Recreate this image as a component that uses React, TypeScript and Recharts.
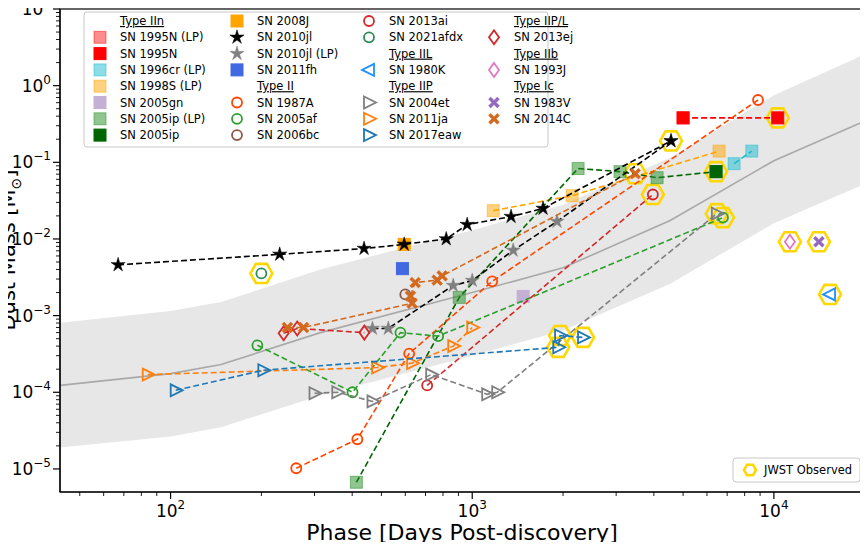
import React from 'react';
import { ComposedChart, XAxis, YAxis, Scatter, Line, Area } from 'recharts';

// [days, dust mass (Msun), jwst?]
type P = [number, number, number?];

const sn1995nLP: P[] = [[5000, 0.38]];
const sn1995n: P[] = [[5000, 0.38], [10300, 0.38, 1]];
const sn1996crLP: P[] = [[7380, 0.096], [8450, 0.14]];
const sn1998sLP: P[] = [[1174, 0.0234], [2143, 0.0367], [6580, 0.14]];
const sn2005gn: P[] = [[1475, 0.00178]];
const sn2005ipLP: P[] = [[413, 6.7e-6], [906, 0.00173], [2244, 0.083], [3090, 0.0755], [4100, 0.063], [6430, 0.0755]];
const sn2005ip: P[] = [[6430, 0.0755, 1]];
const sn2008j: P[] = [[595, 0.0085]];
const sn2010jl: P[] = [[67, 0.0046], [230, 0.0063], [438, 0.0075], [595, 0.0085], [820, 0.01], [962, 0.0154], [1345, 0.0196], [1717, 0.025], [4560, 0.19, 1]];
const sn2010jlLP: P[] = [[467, 6.8e-4], [527, 6.8e-4], [865, 0.00247], [1000, 0.00287], [1367, 0.0071], [1910, 0.0169], [4560, 0.19]];
const sn2011fh: P[] = [[587, 0.0041]];
const sn1987a: P[] = [[261, 1.02e-5], [416, 2.44e-5], [618, 3.2e-4], [1165, 0.0028], [8860, 0.65]];
const sn2005af: P[] = [[194, 4.1e-4], [401, 1.0e-4], [578, 6.0e-4], [771, 5.4e-4], [6780, 0.019, 1]];
const sn2006bc: P[] = [[600, 0.00189]];
const sn2013ai: P[] = [[709, 1.23e-4], [3970, 0.038, 1]];
const sn2021afdx: P[] = [[200, 0.00355, 1]];
const sn1980k: P[] = [[15350, 0.00189, 1]];
const sn2004et: P[] = [[300, 9.7e-5], [357, 1.0e-4], [467, 7.6e-5], [731, 1.7e-4], [1121, 9.4e-5], [1210, 1.0e-4], [6470, 0.0214, 1]];
const sn2011ja: P[] = [[84, 1.7e-4], [484, 2.1e-4], [632, 2.4e-4], [865, 4.0e-4], [1000, 7.0e-4]];
const sn2017eaw: P[] = [[104, 1.06e-4], [203, 1.94e-4], [1928, 3.86e-4, 1], [1955, 5.5e-4, 1], [2330, 5.2e-4, 1]];
const sn2013ej: P[] = [[237, 5.9e-4], [263, 6.8e-4], [439, 6.0e-4]];
const sn1993j: P[] = [[11300, 0.0092, 1]];
const sn1983v: P[] = [[14100, 0.0092, 1]];
const sn2014c: P[] = [[244, 7.0e-4], [276, 7.0e-4], [647, 0.0027], [624, 0.0018], [632, 0.00145], [765, 0.0029], [795, 0.0033], [3470, 0.071, 1]];

const trendDays = [43, 100, 147, 314, 1000, 2000, 4530, 10000, 20200];
const trendMid = [1.23e-4, 1.75e-4, 2.3e-4, 6.0e-4, 2.0e-3, 4.2e-3, 1.74e-2, 0.105, 0.35];
const trendHigh = [8.1e-4, 1.15e-3, 1.5e-3, 4.0e-3, 1.3e-2, 2.8e-2, 0.115, 0.75, 2.6];
const trendLow = [1.9e-5, 2.65e-5, 3.5e-5, 9.1e-5, 3.0e-4, 6.4e-4, 2.6e-3, 1.6e-2, 5.3e-2];

const xTicks = [50, 60, 70, 80, 90, 100, 200, 300, 400, 500, 600, 700, 800, 900, 1000, 2000, 3000, 4000, 5000, 6000, 7000, 8000, 9000, 10000, 20000];
const yTicks: number[] = [];
for (let e = -5; e <= 0; e++) for (let k = 1; k <= 9; k++) yTicks.push(k * Math.pow(10, e));
yTicks.push(10);

const band = trendDays.map((d, i) => ({ d, m: trendMid[i], band: [trendLow[i], trendHigh[i]] }));
const toRows = (s: P[]) => s.map(([d, m, j]) => ({ d, m, j: !!j }));

type Kind = 'square' | 'star' | 'circle' | 'tri' | 'triL' | 'diamond' | 'cross' | 'hex';

function Marker({ kind, x, y, color, op = 1, r = 6 }: { kind: Kind; x: number; y: number; color: string; op?: number; r?: number }) {
  const sw = 1.8;
  if (kind === 'square') return <rect x={x - r} y={y - r} width={2 * r} height={2 * r} fill={color} fillOpacity={op} stroke={color} strokeOpacity={op} />;
  if (kind === 'circle') return <circle cx={x} cy={y} r={r - 1} fill="none" stroke={color} strokeWidth={sw} />;
  if (kind === 'star') {
    const pts: string[] = [];
    for (let i = 0; i < 10; i++) {
      const a = -Math.PI / 2 + (i * Math.PI) / 5;
      const rr = i % 2 ? r * 0.45 : r * 1.25;
      pts.push(`${x + rr * Math.cos(a)},${y + rr * Math.sin(a)}`);
    }
    return <polygon points={pts.join(' ')} fill={color} stroke={color} strokeWidth={0.5} />;
  }
  if (kind === 'tri') return <polygon points={`${x - r + 1},${y - r} ${x + r + 1},${y} ${x - r + 1},${y + r}`} fill="none" stroke={color} strokeWidth={sw} />;
  if (kind === 'triL') return <polygon points={`${x + r - 1},${y - r} ${x - r - 1},${y} ${x + r - 1},${y + r}`} fill="none" stroke={color} strokeWidth={sw} />;
  if (kind === 'diamond') return <polygon points={`${x},${y - r - 1} ${x + r - 1},${y} ${x},${y + r + 1} ${x - r + 1},${y}`} fill="none" stroke={color} strokeWidth={sw} />;
  if (kind === 'cross') {
    const a = r * 0.9, b = r * 0.35;
    const path = `M${x - a},${y - a + b} L${x - a + b},${y - a} L${x},${y - b} L${x + a - b},${y - a} L${x + a},${y - a + b} L${x + b},${y} L${x + a},${y + a - b} L${x + a - b},${y + a} L${x},${y + b} L${x - a + b},${y + a} L${x - a},${y + a - b} L${x - b},${y} Z`;
    return <path d={path} fill={color} stroke={color} strokeWidth={0.6} />;
  }
  const pts: string[] = [];
  for (let i = 0; i < 6; i++) {
    const a = (i * Math.PI) / 3;
    pts.push(`${x + r * Math.cos(a)},${y + r * Math.sin(a)}`);
  }
  return <polygon points={pts.join(' ')} fill="none" stroke="#ffd700" strokeWidth={2.6} />;
}

type S = { name: string; data: P[]; kind: Kind; color: string; op?: number; line?: string };
const series: S[] = [
  { name: 'SN 1995N (LP)', data: sn1995nLP, kind: 'square', color: '#ff0000', op: 0.45 },
  { name: 'SN 1995N', data: sn1995n, kind: 'square', color: '#ff0000', line: '#ff0000' },
  { name: 'SN 1996cr (LP)', data: sn1996crLP, kind: 'square', color: '#17becf', op: 0.5, line: '#17becf' },
  { name: 'SN 1998S (LP)', data: sn1998sLP, kind: 'square', color: '#ffa500', op: 0.5, line: '#ffa500' },
  { name: 'SN 2005gn', data: sn2005gn, kind: 'square', color: '#c5b0d5' },
  { name: 'SN 2005ip (LP)', data: sn2005ipLP, kind: 'square', color: '#228b22', op: 0.5, line: '#006400' },
  { name: 'SN 2005ip', data: sn2005ip, kind: 'square', color: '#006400' },
  { name: 'SN 2008J', data: sn2008j, kind: 'square', color: '#ffa500' },
  { name: 'SN 2010jl (LP)', data: sn2010jlLP, kind: 'star', color: '#808080', line: '#000000' },
  { name: 'SN 2010jl', data: sn2010jl, kind: 'star', color: '#000000', line: '#000000' },
  { name: 'SN 2011fh', data: sn2011fh, kind: 'square', color: '#4169e1' },
  { name: 'SN 1987A', data: sn1987a, kind: 'circle', color: '#ff4500', line: '#ff4500' },
  { name: 'SN 2005af', data: sn2005af, kind: 'circle', color: '#2ca02c', line: '#2ca02c' },
  { name: 'SN 2006bc', data: sn2006bc, kind: 'circle', color: '#8c564b' },
  { name: 'SN 2013ai', data: sn2013ai, kind: 'circle', color: '#d62728', line: '#d62728' },
  { name: 'SN 2021afdx', data: sn2021afdx, kind: 'circle', color: '#2e8b57' },
  { name: 'SN 1980K', data: sn1980k, kind: 'triL', color: '#1e90ff' },
  { name: 'SN 2004et', data: sn2004et, kind: 'tri', color: '#7f7f7f', line: '#7f7f7f' },
  { name: 'SN 2011ja', data: sn2011ja, kind: 'tri', color: '#ff7f0e', line: '#ff7f0e' },
  { name: 'SN 2017eaw', data: sn2017eaw, kind: 'tri', color: '#1f77b4', line: '#1f77b4' },
  { name: 'SN 2013ej', data: sn2013ej, kind: 'diamond', color: '#d62728', line: '#d62728' },
  { name: 'SN 1993J', data: sn1993j, kind: 'diamond', color: '#e377c2' },
  { name: 'SN 1983V', data: sn1983v, kind: 'cross', color: '#9467bd' },
  { name: 'SN 2014C', data: sn2014c, kind: 'cross', color: '#d2691e', line: '#d2691e' },
];
// order in which the connecting lines follow the points
const lineOrder: Record<string, number[]> = { 'SN 2014C': [0, 1, 4, 3, 2, 5, 6, 7] };

const jwst = series.flatMap((s) => toRows(s.data).filter((r) => r.j));

const legendCols: string[][] = [
  ['#Type IIn', 'SN 1995N (LP)', 'SN 1995N', 'SN 1996cr (LP)', 'SN 1998S (LP)', 'SN 2005gn', 'SN 2005ip (LP)', 'SN 2005ip'],
  ['SN 2008J', 'SN 2010jl', 'SN 2010jl (LP)', 'SN 2011fh', '#Type II', 'SN 1987A', 'SN 2005af', 'SN 2006bc'],
  ['SN 2013ai', 'SN 2021afdx', '#Type IIL', 'SN 1980K', '#Type IIP', 'SN 2004et', 'SN 2011ja', 'SN 2017eaw'],
  ['#Type IIP/L', 'SN 2013ej', '#Type IIb', 'SN 1993J', '#Type Ic', 'SN 1983V', 'SN 2014C'],
];
const colX = [100, 237, 369, 494];

const isDecade = (v: number) => Math.abs(Math.log10(v) - Math.round(Math.log10(v))) < 1e-6;
const expLabel = (v: number) => {
  const e = Math.round(Math.log10(v));
  return e < 0 ? `−${-e}` : `${e}`;
};

function XTick(props: any) {
  const { x, y, payload } = props;
  const major = isDecade(payload.value);
  return (
    <g>
      <line x1={x} x2={x} y1={y} y2={y + (major ? 7 : 4)} stroke="#000" strokeWidth={major ? 1.2 : 0.9} />
      {major && (
        <text x={x} y={y + 25} textAnchor="middle" fontSize={17} fill="#000">
          <tspan>10</tspan>
          <tspan dy={-8} fontSize={12}>{expLabel(payload.value)}</tspan>
        </text>
      )}
    </g>
  );
}

function YTick(props: any) {
  const { x, y, payload } = props;
  const major = isDecade(payload.value);
  return (
    <g>
      <line x1={x} x2={x - (major ? 7 : 4)} y1={y} y2={y} stroke="#000" strokeWidth={major ? 1.2 : 0.9} />
      {major && (
        <text x={x - 9} y={y + 6} textAnchor="end" fontSize={17} fill="#000">
          <tspan>10</tspan>
          <tspan dy={-8} fontSize={12}>{expLabel(payload.value)}</tspan>
        </text>
      )}
    </g>
  );
}

export default function App() {
  return (
    <div style={{ position: 'relative', width: 868, height: 550, margin: -8, fontFamily: 'DejaVu Sans', background: '#fff' }}>
      <ComposedChart width={868} height={550} margin={{ top: 9, right: 2, left: 0, bottom: 0 }} style={{ fontFamily: 'DejaVu Sans' }}>
        <XAxis type="number" dataKey="d" scale="log" domain={[43, 20200]} allowDataOverflow ticks={xTicks} tick={<XTick />} tickLine={false} tickSize={0} tickMargin={0} height={58} axisLine={{ stroke: '#000', strokeWidth: 1.2 }} interval={0} />
        <YAxis type="number" dataKey="m" scale="log" domain={[5e-6, 10]} allowDataOverflow ticks={yTicks} tick={<YTick />} tickLine={false} tickSize={0} tickMargin={0} width={60} axisLine={{ stroke: '#000', strokeWidth: 1.2 }} interval={0} />
        <Area data={band} dataKey="band" stroke="none" fill="#d3d3d3" fillOpacity={0.55} isAnimationActive={false} />
        <Line data={band} dataKey="m" stroke="#a9a9a9" strokeWidth={1.6} dot={false} isAnimationActive={false} />
        <Scatter data={jwst} shape={(p: any) => <Marker kind="hex" x={p.cx} y={p.cy} color="#ffd700" r={11} />} isAnimationActive={false} />
        {series.map((s) => {
          const rows = toRows(s.data);
          const ordered = lineOrder[s.name] ? lineOrder[s.name].map((i) => rows[i]) : rows;
          return (
            <Scatter
              key={s.name}
              data={ordered}
              line={s.line ? { stroke: s.line, strokeWidth: 1.6, strokeDasharray: '6 3' } : false}
              shape={(p: any) => <Marker kind={s.kind} x={p.cx} y={p.cy} color={s.color} op={s.op ?? 1} />}
              isAnimationActive={false}
            />
          );
        })}
      </ComposedChart>
      <svg width={868} height={550} style={{ position: 'absolute', left: 0, top: 0, pointerEvents: 'none', fontFamily: 'DejaVu Sans' }}>
        <rect x={60} y={9} width={806} height={483} fill="none" stroke="#000" strokeWidth={1.2} />
        <text transform="translate(15,250) rotate(-90)" textAnchor="middle" fontSize={21}>
          Dust Mass [M<tspan dy={6} fontSize={14}>⊙</tspan><tspan dy={-6}>]</tspan>
        </text>
        <text x={462} y={540} textAnchor="middle" fontSize={22}>Phase [Days Post-discovery]</text>
        <rect x={84} y={12} width={464} height={135} rx={3} fill="#fff" fillOpacity={0.85} stroke="#c8c8c8" />
        {legendCols.map((col, ci) =>
          col.map((item, ri) => {
            const y = 21 + ri * 16.3;
            if (item.startsWith('#'))
              return (
                <text key={ci + '-' + ri} x={colX[ci] + 20} y={y + 4} fontSize={11.5} textDecoration="underline">{item.slice(1)}</text>
              );
            const s = series.find((q) => q.name === item)!;
            return (
              <g key={ci + '-' + ri}>
                <Marker kind={s.kind} x={colX[ci]} y={y} color={s.color} op={s.op ?? 1} />
                <text x={colX[ci] + 20} y={y + 4} fontSize={11.5}>{item}</text>
              </g>
            );
          })
        )}
        <rect x={733} y={458} width={127} height={24} rx={3} fill="#fff" stroke="#c8c8c8" />
        <Marker kind="hex" x={750} y={470} color="#ffd700" r={6} />
        <text x={764} y={474} fontSize={11.5}>JWST Observed</text>
      </svg>
    </div>
  );
}
